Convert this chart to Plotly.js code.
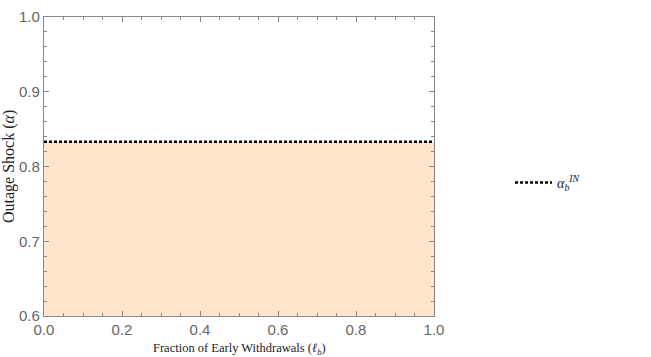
<!DOCTYPE html>
<html><head><meta charset="utf-8">
<script src="https://cdn.plot.ly/plotly-3.0.1.min.js"></script>
<style>html,body{margin:0;padding:0;background:#fff}</style>
</head><body><div id="chart" style="width:651px;height:357px"></div>
<script>
const xRange = [0, 1];
const alphaIN = [0.833, 0.833];
const seriesName = "<i>α</i><sub><i>b</i></sub><sup><i>IN</i></sup>";
const xTitle = "Fraction of Early Withdrawals (<i>ℓ</i><sub><i>b</i></sub>)";
const yTitle = "Outage Shock (<i>α</i>)";

const serif = 'Liberation Serif, DejaVu Serif, serif';
const traces = [
  {x: xRange, y: alphaIN, type: 'scatter', mode: 'lines', fill: 'tozeroy',
   fillcolor: '#FEE5CB', line: {width: 0}, showlegend: false, hoverinfo: 'skip'},
  {x: xRange, y: alphaIN, type: 'scatter', mode: 'lines', name: seriesName,
   line: {color: '#000', width: 2.5, dash: '3px,2px'}}
];
const axisCommon = {
  showgrid: false, zeroline: false, showline: true, linecolor: '#888', linewidth: 1.2,
  mirror: 'ticks', ticks: 'inside', ticklen: 5, tickcolor: '#888', tickwidth: 1,
  tickfont: {family: 'Liberation Sans, Arial, sans-serif', size: 15, color: '#666'},
  tickformat: '.1f', automargin: false
};
const layout = {
  width: 651, height: 357,
  margin: {l: 43.5, r: 217, t: 17, b: 41},
  paper_bgcolor: '#fff', plot_bgcolor: '#fff',
  xaxis: Object.assign({}, axisCommon, {range: [0, 1], dtick: 0.2, tick0: 0,
    minor: {dtick: 0.05, ticks: 'inside', ticklen: 3, tickcolor: '#888'}}),
  yaxis: Object.assign({}, axisCommon, {range: [0.6, 1], dtick: 0.1, tick0: 0.6,
    minor: {dtick: 0.02, ticks: 'inside', ticklen: 3, tickcolor: '#888'}}),
  annotations: [
    {text: xTitle, xref: 'paper', yref: 'paper', x: 0.5, y: 0, xanchor: 'center', yanchor: 'middle',
     yshift: -33, showarrow: false, font: {family: serif, size: 12.5, color: '#222'}},
    {text: yTitle, xref: 'paper', yref: 'paper', x: 0, y: 0.5, xanchor: 'center', yanchor: 'middle',
     xshift: -35.5, textangle: -90, showarrow: false, font: {family: serif, size: 16, color: '#222'}}
  ],
  legend: {x: 1.195, y: 0.445, xanchor: 'left', yanchor: 'middle', bgcolor: 'rgba(0,0,0,0)',
    itemwidth: 37, font: {family: serif, size: 14, color: '#222'}},
  showlegend: true
};
Plotly.newPlot('chart', traces, layout, {displayModeBar: false, staticPlot: true});
</script></body></html>
